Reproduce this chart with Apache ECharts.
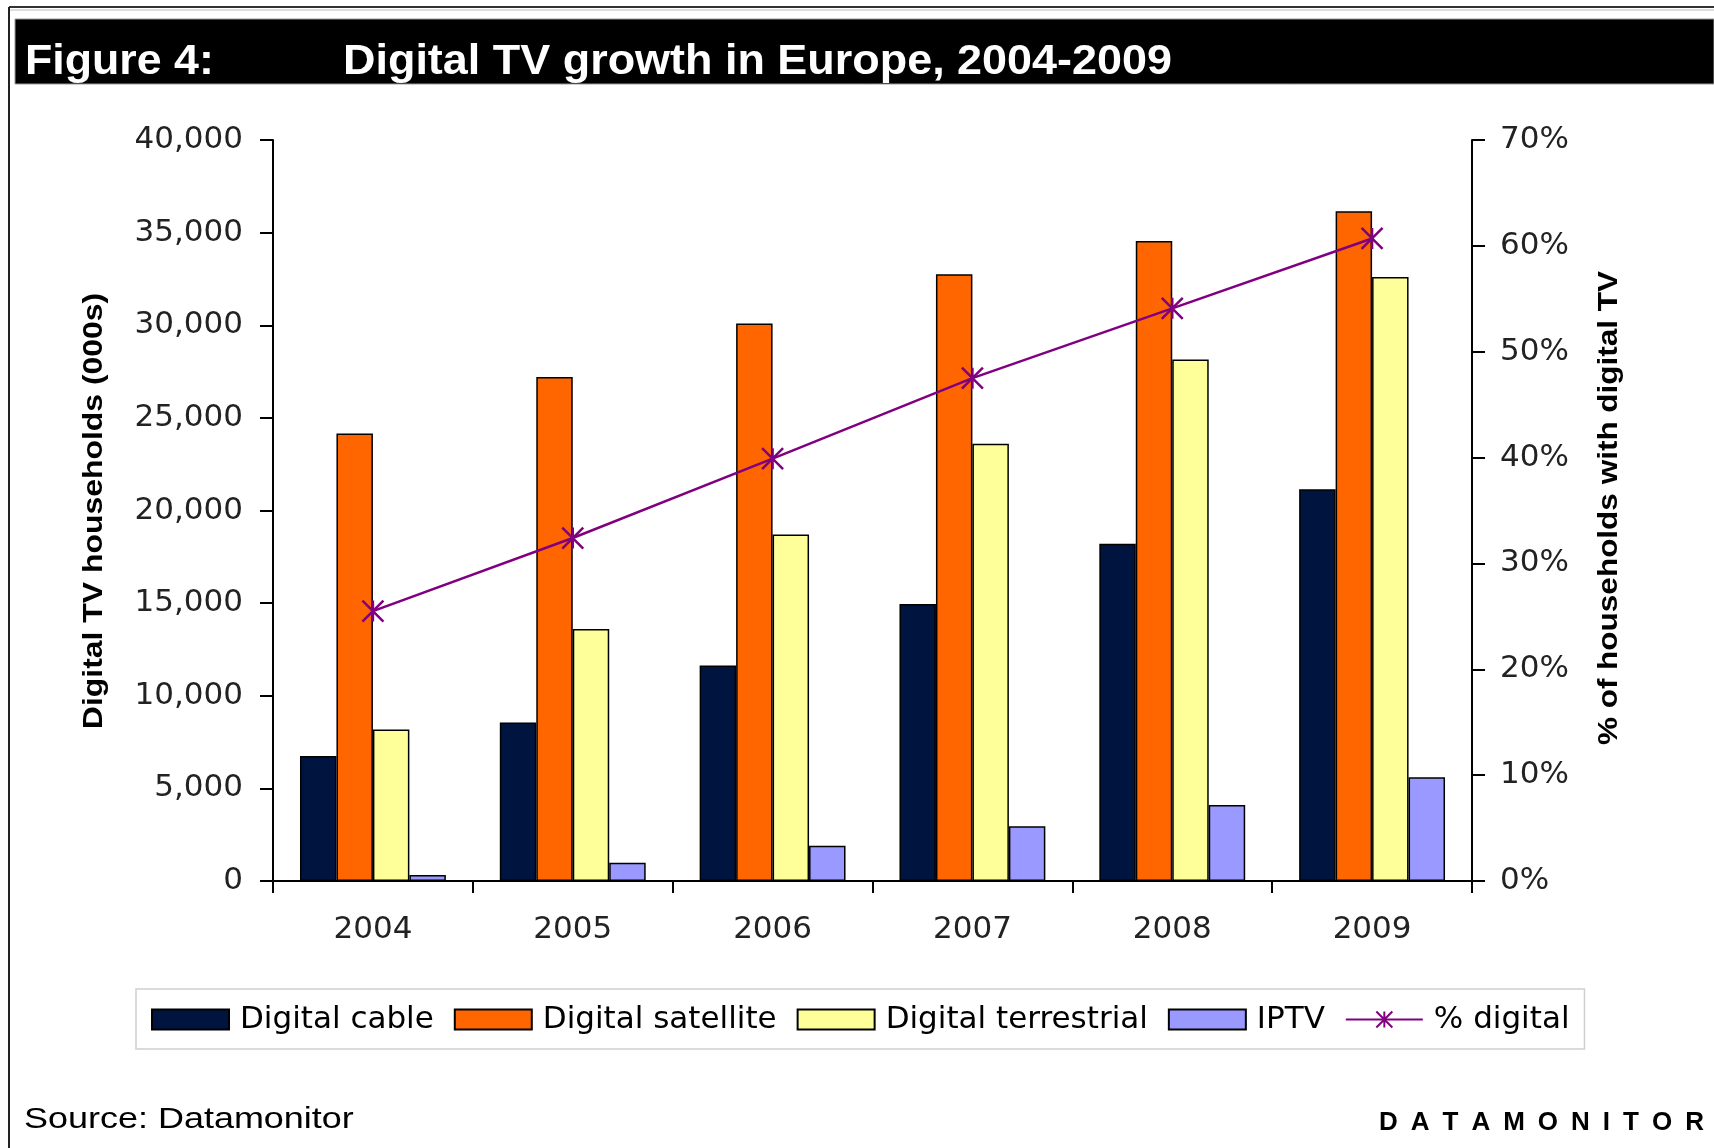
<!DOCTYPE html>
<html>
<head>
<meta charset="utf-8">
<script src="https://cdn.jsdelivr.net/npm/echarts@6/dist/echarts.min.js"></script>
<style>
html,body{margin:0;padding:0;background:#fff;}
#chart{width:1714px;height:1148px;}
</style>
</head>
<body>
<div id="chart"></div>
<script>
const years = ['2004', '2005', '2006', '2007', '2008', '2009'];
const digitalCable = [6750, 8550, 11630, 14950, 18200, 21150];
const digitalSatellite = [24150, 27200, 30100, 32750, 34550, 36150];
const digitalTerrestrial = [8180, 13600, 18700, 23600, 28150, 32600];
const iptv = [320, 990, 1900, 2950, 4100, 5600];
const pctDigital = [25.5, 32.4, 39.9, 47.5, 54.1, 60.7];

const leftTicks = { min: 0, max: 40000, interval: 5000 };
const rightTicks = { min: 0, max: 70, interval: 10 };

const titleLabel = 'Figure 4:';
const titleText = 'Digital TV growth in Europe, 2004-2009';
const leftAxisTitle = 'Digital TV households (000s)';
const rightAxisTitle = '% of households with digital TV';
const sourceText = 'Source: Datamonitor';
const brandText = 'DATAMONITOR';

const colors = {
  cable: '#001440',
  satellite: '#FF6600',
  terrestrial: '#FFFF99',
  iptv: '#9999FF',
  line: '#800080'
};

const FONT = 'DejaVu Sans';
const chart = echarts.init(document.getElementById('chart'), null, { renderer: 'canvas' });

function barSeries(name, data, color) {
  return {
    name: name,
    type: 'bar',
    data: data,
    barGap: '0%',
    barCategoryGap: '27%',
    itemStyle: { color: color, borderColor: '#000', borderWidth: 1.5 },
    emphasis: { disabled: true }
  };
}

const option = {
  animation: false,
  backgroundColor: '#fff',
  grid: { left: 273, right: 242, top: 140, bottom: 267, containLabel: false },
  legend: {
    left: 136,
    top: 989,
    padding: [15, 15, 14, 15],
    borderColor: '#cfcfcf',
    borderWidth: 1.5,
    itemWidth: 77,
    itemHeight: 20,
    itemGap: 20,
    textStyle: { fontFamily: FONT, fontSize: 31, color: '#000', padding: [0, 0, 0, 6] },
    data: [
      { name: 'Digital cable', icon: 'rect' },
      { name: 'Digital satellite', icon: 'rect' },
      { name: 'Digital terrestrial', icon: 'rect' },
      { name: 'IPTV', icon: 'rect' },
      { name: '% digital' }
    ]
  },
  xAxis: {
    type: 'category',
    data: years,
    axisLine: { show: true, lineStyle: { color: '#000', width: 2 } },
    axisTick: { show: true, alignWithLabel: false, length: 12, lineStyle: { color: '#000', width: 2 } },
    axisLabel: { fontFamily: FONT, fontSize: 31, color: '#222', margin: 33 },
    splitLine: { show: false }
  },
  yAxis: [
    {
      type: 'value',
      position: 'left',
      min: leftTicks.min,
      max: leftTicks.max,
      interval: leftTicks.interval,
      axisLine: { show: true, lineStyle: { color: '#000', width: 2 } },
      axisTick: { show: true, length: 13, lineStyle: { color: '#000', width: 2 } },
      axisLabel: {
        fontFamily: FONT, fontSize: 31, color: '#222', margin: 30,
        formatter: function (v) { return v.toLocaleString('en-US'); }
      },
      splitLine: { show: false }
    },
    {
      type: 'value',
      position: 'right',
      min: rightTicks.min,
      max: rightTicks.max,
      interval: rightTicks.interval,
      axisLine: { show: true, lineStyle: { color: '#000', width: 2 } },
      axisTick: { show: true, length: 13, lineStyle: { color: '#000', width: 2 } },
      axisLabel: { fontFamily: FONT, fontSize: 31, color: '#222', margin: 28, formatter: '{value}%' },
      splitLine: { show: false }
    }
  ],
  series: [
    barSeries('Digital cable', digitalCable, colors.cable),
    barSeries('Digital satellite', digitalSatellite, colors.satellite),
    barSeries('Digital terrestrial', digitalTerrestrial, colors.terrestrial),
    barSeries('IPTV', iptv, colors.iptv),
    {
      name: '% digital',
      type: 'line',
      yAxisIndex: 1,
      data: pctDigital,
      symbol: 'path://M0,0L10,10M10,0L0,10M5,0L5,10',
      symbolSize: 21,
      showAllSymbol: true,
      lineStyle: { color: colors.line, width: 2.5 },
      itemStyle: { color: colors.line, borderColor: colors.line, borderWidth: 2.5 },
      emphasis: { disabled: true },
      z: 5
    }
  ],
  graphic: [
    { type: 'line', z: 10, shape: { x1: 9, y1: 7, x2: 1714, y2: 7 }, style: { stroke: '#333', lineWidth: 2 }, silent: true },
    { type: 'line', z: 10, shape: { x1: 9, y1: 10, x2: 1714, y2: 10 }, style: { stroke: '#bbb', lineWidth: 1 }, silent: true },
    { type: 'line', z: 10, shape: { x1: 9, y1: 7, x2: 9, y2: 1148 }, style: { stroke: '#222', lineWidth: 2 }, silent: true },
    { type: 'rect', z: 10, shape: { x: 15, y: 19, width: 1699, height: 65 }, style: { fill: '#000', stroke: '#999', lineWidth: 1 }, silent: true },
    {
      type: 'text', z: 11, x: 25, y: 62, scaleX: 1.04, silent: true,
      style: { text: titleLabel, fill: '#fff', font: 'bold 43px "Liberation Sans", Arial, sans-serif', align: 'left', verticalAlign: 'middle' }
    },
    {
      type: 'text', z: 11, x: 343, y: 62, scaleX: 1.045, silent: true,
      style: { text: titleText, fill: '#fff', font: 'bold 43px "Liberation Sans", Arial, sans-serif', align: 'left', verticalAlign: 'middle' }
    },
    {
      type: 'text', z: 11, x: 94, y: 511, rotation: Math.PI / 2, scaleX: 1.14, silent: true,
      style: { text: leftAxisTitle, fill: '#000', font: 'bold 28px "Liberation Sans", Arial, sans-serif', align: 'center', verticalAlign: 'middle' }
    },
    {
      type: 'text', z: 11, x: 1609, y: 508, rotation: Math.PI / 2, scaleX: 1.125, silent: true,
      style: { text: rightAxisTitle, fill: '#000', font: 'bold 28px "Liberation Sans", Arial, sans-serif', align: 'center', verticalAlign: 'middle' }
    },
    {
      type: 'text', z: 11, x: 24, y: 1120, scaleX: 1.24, silent: true,
      style: { text: sourceText, fill: '#000', font: '29px "Liberation Sans", Arial, sans-serif', align: 'left', verticalAlign: 'middle' }
    },
    {
      type: 'text', z: 11, x: 1379, y: 1123, silent: true,
      style: { text: brandText.split('').join('\u2002'), fill: '#000', font: 'bold 26px "Liberation Sans", Arial, sans-serif', align: 'left', verticalAlign: 'middle' }
    }
  ]
};

chart.setOption(option);
</script>
</body>
</html>
